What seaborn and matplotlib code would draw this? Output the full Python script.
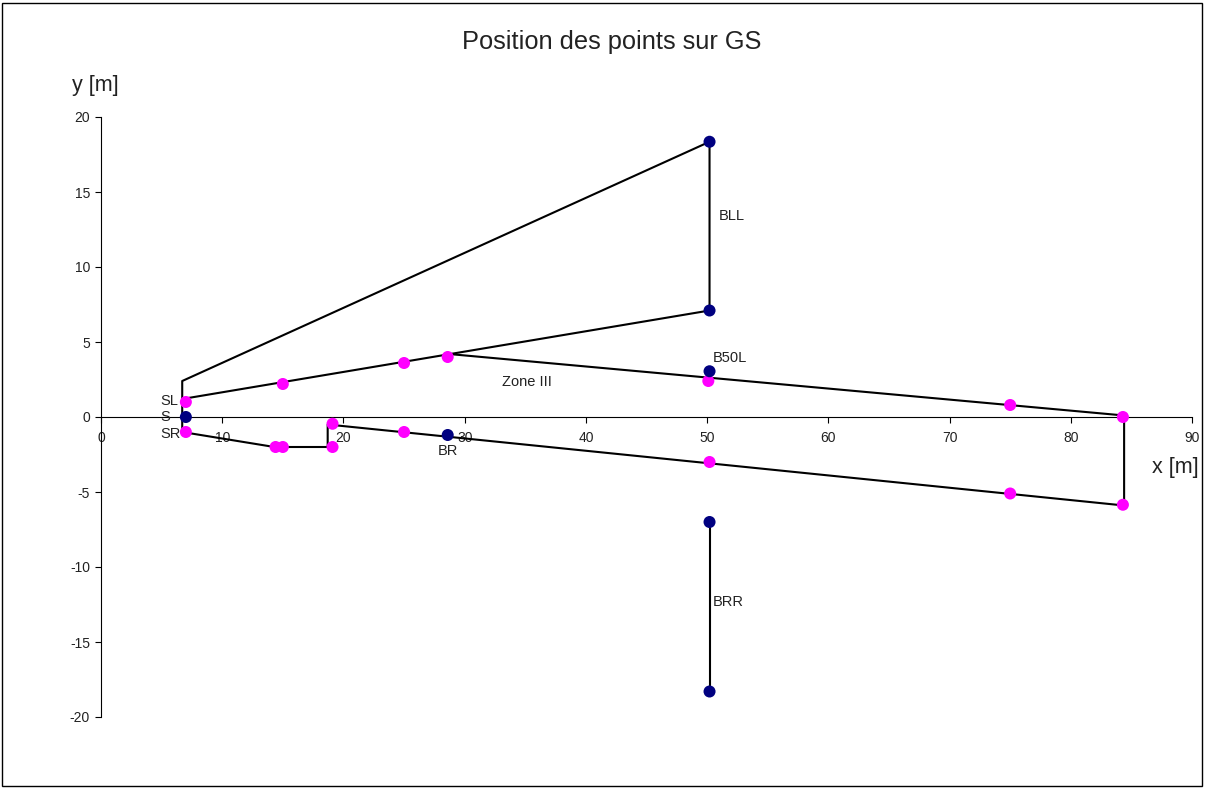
import matplotlib
matplotlib.use("Agg")
import matplotlib.pyplot as plt
import seaborn as sns
import pandas as pd
from matplotlib.patches import Rectangle

# ---- data ----
outline_top_x = [6.7, 6.7, 50.2, 50.2, 6.7]
outline_top_y = [-1.0, 2.4, 18.35, 7.1, 1.2]
zone_x = [28.7, 84.4, 84.4, 18.7, 18.7, 14.3, 6.7]
zone_y = [4.2, 0.1, -5.9, -0.5, -2.0, -2.0, -1.0]
brr_x = [50.2, 50.2]
brr_y = [-7.0, -18.3]

magenta_x = [7.0, 7.0, 15.0, 25.0, 28.6, 50.1, 75.0, 84.3,
             14.4, 15.0, 19.1, 19.1, 25.0, 50.2, 75.0, 84.3]
magenta_y = [1.0, -1.0, 2.2, 3.6, 4.0, 2.4, 0.8, 0.0,
             -2.0, -2.0, -0.45, -2.0, -1.0, -3.0, -5.1, -5.85]
navy_x = [7.0, 28.6, 50.2, 50.2, 50.2, 50.2, 50.2]
navy_y = [0.0, -1.2, 18.35, 7.1, 3.05, -7.0, -18.3]

labels = ["SL", "S", "SR", "BR", "Zone III", "BLL", "B50L", "BRR"]
label_x = [4.9, 4.9, 4.9, 28.6, 33.1, 51.0, 50.45, 50.45]
label_y = [1.05, 0.0, -1.15, -2.25, 2.3, 13.4, 3.9, -12.3]
label_ha = ["left", "left", "left", "center", "left", "left", "left", "left"]

x_ticks = list(range(0, 100, 10))
y_ticks = list(range(-20, 25, 5))

# ---- plot ----
sns.set_style("white")
plt.rcParams['font.family'] = ['Liberation Sans', 'DejaVu Sans']
plt.rcParams['axes.unicode_minus'] = False

fig = plt.figure(figsize=(12.05, 7.88), dpi=100)
ax = fig.add_axes([101/1205, 1-717/788, (1192-101)/1205, 600/788])

segs = []
for i, (xs, ys) in enumerate([(outline_top_x, outline_top_y), (zone_x, zone_y), (brr_x, brr_y)]):
    for j, (a, b) in enumerate(zip(xs, ys)):
        segs.append({"x": a, "y": b, "seg": i, "order": j})
df_lines = pd.DataFrame(segs)
sns.lineplot(data=df_lines, x="x", y="y", units="seg", estimator=None, sort=False,
             color="black", linewidth=1.5, ax=ax, zorder=2)

sns.scatterplot(x=magenta_x, y=magenta_y, color="#FF00FF", s=75, edgecolor="none",
                ax=ax, zorder=3)
sns.scatterplot(x=navy_x, y=navy_y, color="#000080", s=75, edgecolor="none",
                ax=ax, zorder=3)

for t, lx, ly, ha in zip(labels, label_x, label_y, label_ha):
    ax.text(lx, ly, t, ha=ha, va="center", fontsize=10.5, color="#222222")

ax.set_xlim(0, 90)
ax.set_ylim(-20, 20)
ax.set_xticks(x_ticks)
ax.set_yticks(y_ticks)
ax.spines['left'].set_position(('data', 0))
ax.spines['bottom'].set_position(('data', 0))
ax.spines['right'].set_visible(False)
ax.spines['top'].set_visible(False)
for s in ['left', 'bottom']:
    ax.spines[s].set_color('black')
    ax.spines[s].set_linewidth(0.8)
ax.tick_params(axis='both', direction='out', length=4, width=0.8, color='black',
               labelsize=10, left=True, bottom=True, labelcolor="#222222")
ax.tick_params(axis='x', pad=6)
ax.tick_params(axis='y', pad=4)
ax.set_xlabel("")
ax.set_ylabel("")
ax.patch.set_alpha(0)

fig.text(1152/1205, 1-467/788, "x [m]", fontsize=15.5, ha="left", va="center", color="#222222")
fig.text(72/1205, 1-86/788, "y [m]", fontsize=15.5, ha="left", va="center", color="#222222")
fig.text(612/1205, 1-42/788, "Position des points sur GS", fontsize=18.3, ha="center", va="center",
         color="#222222")

fig.add_artist(Rectangle((2/1205, 2/788), 1200/1205, 783/788, transform=fig.transFigure,
                         fill=False, edgecolor="black", linewidth=1))

fig.savefig("out.png", dpi=100)
